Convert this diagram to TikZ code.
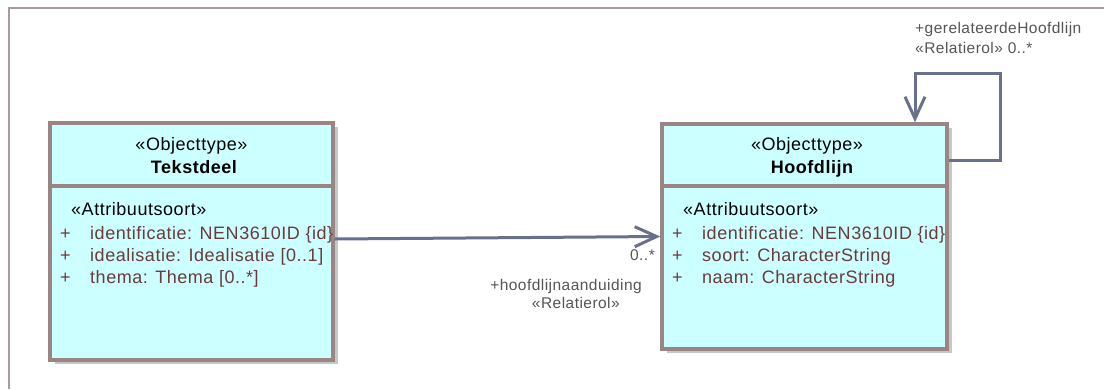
\documentclass[tikz,border=0pt]{standalone}
\usepackage{fontspec}
\setmainfont{Liberation Sans}[LetterSpace=3]
\usetikzlibrary{arrows.meta,shadows}

\definecolor{classfill}{RGB}{204,255,255}
\definecolor{classline}{RGB}{155,132,132}
\definecolor{attrtext}{RGB}{108,58,58}
\definecolor{assocline}{RGB}{104,112,142}
\definecolor{roletext}{RGB}{85,85,85}
\definecolor{frameline}{RGB}{172,154,154}

\begin{document}
\begin{tikzpicture}[x=1pt,y=-1pt,
  classbox/.style={shape=rectangle,draw=classline,fill=classfill,line width=3.4pt,inner sep=0pt,
    drop shadow={shadow xshift=5pt,shadow yshift=-4pt,fill=black!22,opacity=1}},
  boxtext/.style={inner sep=0pt,anchor=base,font=\fontsize{18}{21}\selectfont},
  stereo/.style={boxtext,text=black},
  classname/.style={boxtext,text=black,font=\fontsize{18}{21}\selectfont\bfseries},
  attr/.style={boxtext,anchor=base west,text=attrtext},
  role/.style={inner sep=0pt,text=roletext,font=\fontsize{15.5}{18}\selectfont},
  assoc/.style={draw=assocline,line width=3pt,-{Straight Barb[length=22pt,width=20pt]}}]
\useasboundingbox (0,0) rectangle (1104,389);
\draw[frameline,line width=2pt] (8.5,389) -- (8.5,7.5) -- (1104,7.5);

\node[classbox,minimum width=283pt,minimum height=237pt] (tekstdeel) at (191.5,241.5) {};
\node[classbox,minimum width=285pt,minimum height=225pt] (hoofdlijn) at (804.5,236.5) {};
\draw[draw=classline,line width=3.4pt] (tekstdeel.west |- 0,186) -- (tekstdeel.east |- 0,186);
\draw[draw=classline,line width=3.4pt] (hoofdlijn.west |- 0,186) -- (hoofdlijn.east |- 0,186);

% Tekstdeel
\node[stereo] (td-stereo) at (191.5,150) {«Objecttype»};
\node[classname] (td-name) at (194,173) {Tekstdeel};
\node[stereo,anchor=base west] (td-attrs) at (71,215) {«Attribuutsoort»};
\node[attr] (td-p1) at (60,239) {+};
\node[attr] (td-a1) at (90,239) {identificatie: NEN3610ID \{id\}};
\node[attr] (td-p2) at (60,261) {+};
\node[attr] (td-a2) at (90,261) {idealisatie: Idealisatie [0..1]};
\node[attr] (td-p3) at (60,283) {+};
\node[attr] (td-a3) at (90,283) {thema: Thema [0..*]};

% Hoofdlijn
\node[stereo] (hl-stereo) at (807,150) {«Objecttype»};
\node[classname] (hl-name) at (812,173) {Hoofdlijn};
\node[stereo,anchor=base west] (hl-attrs) at (683,215) {«Attribuutsoort»};
\node[attr] (hl-p1) at (672,239) {+};
\node[attr] (hl-a1) at (702,239) {identificatie: NEN3610ID \{id\}};
\node[attr] (hl-p2) at (672,261) {+};
\node[attr] (hl-a2) at (702,261) {soort: CharacterString};
\node[attr] (hl-p3) at (672,283) {+};
\node[attr] (hl-a3) at (702,283) {naam: CharacterString};

% associations
\draw[assoc] ([yshift=2.5pt]tekstdeel.east) -- (hoofdlijn.west);
\node[role,anchor=base east] (hl-mult) at (655,260) {0..*};
\node[role,anchor=base east] (hl-role) at (642,290) {+hoofdlijnaanduiding};
\node[role,anchor=base east] (hl-rolest) at (620,308) {«Relatierol»};

\coordinate (loop1) at (1000,160);
\coordinate (loop2) at (915,73);
\draw[assoc] (hoofdlijn.east |- loop1) -- (loop1) |- (loop2) -- (loop2 |- hoofdlijn.north);
\node[role,anchor=base west] (self-role) at (915,33) {+gerelateerdeHoofdlijn};
\node[role,anchor=base west] (self-rolest) at (915,53) {«Relatierol» 0..*};
\end{tikzpicture}
\end{document}
